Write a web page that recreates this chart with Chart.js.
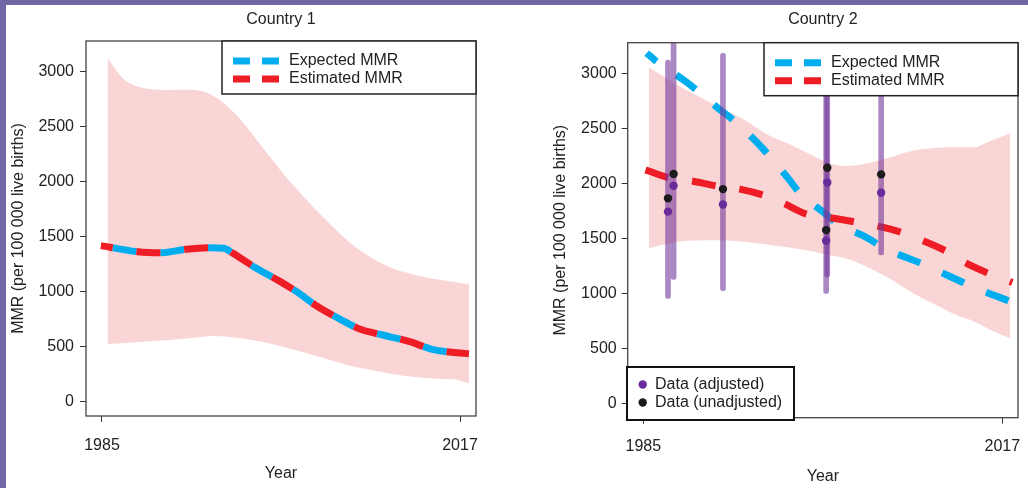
<!DOCTYPE html>
<html><head><meta charset="utf-8">
<script src="https://cdn.jsdelivr.net/npm/chart.js@4.4.1/dist/chart.umd.min.js"></script>
<style>
html,body{margin:0;padding:0;}
body{width:1028px;height:488px;background:#7267a6;position:relative;overflow:hidden;}
#panel{position:absolute;left:6px;top:5px;right:0;bottom:0;background:#fff;}
canvas{position:absolute;top:0;}
#c1{left:0}
#c2{left:520px}
</style></head><body>
<div id="panel"></div>
<canvas id="c1" width="520" height="488"></canvas>
<canvas id="c2" width="508" height="488"></canvas>
<script>
// ---- shared axis ticks ----
const xTicks = [1985, 2017];
const xTickLabels = ['1985', '2017'];
const yTicks = [0, 500, 1000, 1500, 2000, 2500, 3000];
const yTickLabels = ['0', '500', '1000', '1500', '2000', '2500', '3000'];
const panelTitles = ['Country 1', 'Country 2'];
const xTitle = 'Year';
const yTitle = 'MMR (per 100 000 live births)';
const lineLegendLabels = ['Expected MMR', 'Estimated MMR'];
const dataLegendLabels = ['Data (adjusted)', 'Data (unadjusted)'];

// ---- Country 1 ----
const c1LineYears = [1984.9, 1988.2, 1990.3, 1992.5, 1994.7, 1995.9, 1996.7, 1998.8, 2000.9, 2002.4, 2004.3, 2006.3, 2008.1, 2010.1, 2012.5, 2014.5, 2016.7, 2017.8];
const c1Expected  = [1420, 1365, 1356, 1387, 1401, 1396, 1350, 1214, 1095, 1001, 864, 750, 659, 607, 546, 477, 446, 437];
const c1Estimated = [1420, 1365, 1356, 1387, 1401, 1396, 1350, 1214, 1095, 1001, 864, 750, 659, 607, 546, 477, 446, 437];
const c1BandYears = [1985.5, 1987, 1989, 1991, 1993, 1995, 1997, 1999, 2001, 2003, 2005, 2007, 2009, 2011, 2013, 2015, 2016.5, 2017.8];
const c1Upper = [3125, 2930, 2850, 2836, 2838, 2780, 2610, 2360, 2100, 1868, 1656, 1462, 1314, 1212, 1154, 1111, 1090, 1068];
const c1Lower = [525, 535, 548, 561, 580, 598, 582, 550, 505, 450, 390, 332, 290, 250, 225, 210, 205, 167];

// ---- Country 2 ----
const c2ExpYears = [1985.3, 1986.2, 1988.9, 1991.5, 1993.2, 1995.6, 1997.8, 1999.1, 2001.0, 2002.5, 2004.8, 2006.5, 2009.7, 2014.7, 2017.8];
const c2Expected = [3188, 3109, 2920, 2700, 2563, 2324, 2062, 1896, 1744, 1623, 1516, 1411, 1277, 1047, 925];
const c2EstYears = [1985.2, 1987.2, 1989.3, 1991.5, 1993.6, 1995.7, 1997.5, 1999.6, 2001.6, 2003.7, 2005.8, 2007.9, 2009.8, 2011.9, 2013.5, 2015.6, 2017.9];
const c2Estimated = [2125, 2055, 2025, 1980, 1950, 1895, 1820, 1720, 1690, 1655, 1615, 1560, 1485, 1390, 1290, 1190, 1100];
const c2BandYears = [1985.5, 1988, 1990, 1992, 1994, 1996, 1998, 2000, 2001.5, 2003, 2005, 2007, 2009, 2011, 2013, 2014.4, 2016, 2017.7];
const c2Upper = [3058, 2900, 2790, 2680, 2580, 2450, 2360, 2260, 2190, 2160, 2185, 2240, 2300, 2325, 2330, 2330, 2390, 2457];
const c2Lower = [1411, 1471, 1483, 1484, 1470, 1445, 1418, 1385, 1350, 1320, 1240, 1135, 1005, 900, 800, 750, 665, 592];
const c2DataYears = [1987.2, 1987.7, 1992.1, 2001.4, 2001.3, 2006.2];
const c2Adjusted = [1745, 1980, 1810, 2010, 1480, 1917];
const c2Unadjusted = [1866, 2087, 1950, 2144, 1577, 2084];
const c2IntervalLow = [956, 1129, 1025, 1152, 1001, 1350];
const c2IntervalHigh = [3124, 3290, 3186, 2950, 3000, 2900];

// ---- styles ----
const BLUE = '#00aeef', RED = '#ee1c25', BAND = '#fad5d5';
const PURPLE = '#6b2c9b', BLACK = '#1c1c1c', BAR = 'rgba(115,55,155,0.6)';
const TXT = '#222';
const FONT = '"Liberation Sans", Arial, Helvetica, sans-serif';
Chart.defaults.font.family = FONT;
Chart.defaults.font.size = 16;

const zip = (xs, ys) => xs.map((x, i) => ({x: x, y: ys[i]}));

const frameBox = {
  id: 'frameBox',
  afterDatasetsDraw(chart) {
    const {ctx, chartArea: a} = chart;
    ctx.save();
    ctx.strokeStyle = '#444'; ctx.lineWidth = 1.3;
    ctx.strokeRect(a.left, a.top, a.right - a.left, a.bottom - a.top);
    ctx.restore();
  }
};

function makeLineLegend(labels, colors) {
  return { id: 'lineLegend', afterDraw(chart) {
    const {ctx, chartArea: a} = chart;
    const w = 254, h = 53, x0 = a.right - w, y0 = a.top;
    ctx.save();
    ctx.fillStyle = '#fff'; ctx.fillRect(x0, y0, w, h);
    ctx.strokeStyle = '#222'; ctx.lineWidth = 1.5; ctx.strokeRect(x0, y0, w, h);
    labels.forEach((lab, i) => {
      const y = y0 + 20 + i * 18;
      ctx.strokeStyle = colors[i]; ctx.lineWidth = 7; ctx.lineCap = 'butt';
      ctx.beginPath();
      ctx.moveTo(x0 + 11, y); ctx.lineTo(x0 + 28, y);
      ctx.moveTo(x0 + 40, y); ctx.lineTo(x0 + 57, y);
      ctx.stroke();
      ctx.fillStyle = TXT; ctx.font = '16px ' + FONT;
      ctx.textBaseline = 'middle'; ctx.textAlign = 'left';
      ctx.fillText(lab, x0 + 67, y);
    });
    ctx.restore();
  }};
}

function makeDotLegend(labels, colors) {
  return { id: 'dotLegend', afterDraw(chart) {
    const {ctx, chartArea: a} = chart;
    const w = 167, h = 53, x0 = a.left - 0.7, y0 = a.bottom - 50.7;
    ctx.save();
    ctx.fillStyle = '#fff'; ctx.fillRect(x0, y0, w, h);
    ctx.strokeStyle = '#111'; ctx.lineWidth = 2; ctx.strokeRect(x0, y0, w, h);
    labels.forEach((lab, i) => {
      const y = y0 + 17.5 + i * 18;
      ctx.fillStyle = colors[i];
      ctx.beginPath(); ctx.arc(x0 + 15.7, y, 4.2, 0, Math.PI * 2); ctx.fill();
      ctx.fillStyle = TXT; ctx.font = '16px ' + FONT;
      ctx.textBaseline = 'middle'; ctx.textAlign = 'left';
      ctx.fillText(lab, x0 + 28, y);
    });
    ctx.restore();
  }};
}

function makeScales(o) {
  return {
    x: {
      type: 'linear', min: o.xmin, max: o.xmax, offset: false,
      afterBuildTicks: s => { s.ticks = xTicks.map(v => ({value: v})); },
      afterFit: s => { s.height = o.xh; s.paddingLeft = 0; s.paddingRight = 0; },
      grid: { offset: false, drawOnChartArea: false, drawTicks: true, tickLength: 6, tickColor: '#333', lineWidth: 1 },
      border: { display: false },
      ticks: { autoSkip: false, maxRotation: 0, padding: o.xpad, color: TXT, font: {size: 16},
        callback: v => { const i = xTicks.indexOf(v); return i >= 0 ? xTickLabels[i] : String(v); } },
      title: { display: true, text: xTitle, color: TXT, font: {size: 16}, padding: {top: 0, bottom: o.xtpad} }
    },
    y: {
      type: 'linear', min: -130, max: 3282,
      afterBuildTicks: s => { s.ticks = yTicks.map(v => ({value: v})); },
      afterFit: s => { s.width = o.yw; s.paddingTop = 0; s.paddingBottom = 0; },
      grid: { drawOnChartArea: false, drawTicks: true, tickLength: 6, tickColor: '#333', lineWidth: 1 },
      border: { display: false },
      ticks: { padding: o.ypad, color: TXT, font: {size: 16},
        callback: v => { const i = yTicks.indexOf(v); return i >= 0 ? yTickLabels[i] : String(v); } },
      title: { display: true, text: yTitle, color: TXT, font: {size: 16}, padding: {top: o.ytpad, bottom: 0} }
    }
  };
}

function baseOptions(title, pad, titlePad, scales) {
  return {
    responsive: false, animation: false, events: [],
    layout: { padding: pad },
    plugins: {
      legend: { display: false }, tooltip: { enabled: false },
      title: { display: true, text: title, fullSize: false, color: TXT,
        font: {size: 16, weight: 'normal'}, padding: titlePad }
    },
    scales: scales
  };
}

const bandLower = (xs, ys) => ({ label: 'band lower', data: zip(xs, ys), borderWidth: 0, borderColor: 'rgba(0,0,0,0)',
  pointRadius: 0, fill: false, order: 20, cubicInterpolationMode: 'monotone' });
const bandUpper = (xs, ys) => ({ label: 'band upper', data: zip(xs, ys), borderWidth: 0, borderColor: 'rgba(0,0,0,0)',
  pointRadius: 0, fill: '-1', backgroundColor: BAND, order: 19, cubicInterpolationMode: 'monotone' });
const dashLine = (label, xs, ys, color, off, order) => ({ label: label, data: zip(xs, ys), borderColor: color,
  borderWidth: 7, borderDash: [24, 24], borderDashOffset: off, borderCapStyle: 'butt', borderJoinStyle: 'round',
  pointRadius: 0, fill: false, order: order, cubicInterpolationMode: 'monotone' });

new Chart(document.getElementById('c1'), {
  type: 'line',
  data: { datasets: [
    bandLower(c1BandYears, c1Lower),
    bandUpper(c1BandYears, c1Upper),
    dashLine(lineLegendLabels[0], c1LineYears, c1Expected, BLUE, 36, 8),
    dashLine(lineLegendLabels[1], c1LineYears, c1Estimated, RED, 12, 7)
  ]},
  options: baseOptions(panelTitles[0], {left: 6, right: 44, top: 0, bottom: 0}, {top: 10, bottom: 11.8},
    makeScales({xmin: 1983.57, xmax: 2018.43, xh: 72, xpad: 14.4, xtpad: 4.4, yw: 80, ypad: 6, ytpad: 3})),
  plugins: [frameBox, makeLineLegend(lineLegendLabels, [BLUE, RED])]
});

new Chart(document.getElementById('c2'), {
  type: 'line',
  data: { datasets: [
    bandLower(c2BandYears, c2Lower),
    bandUpper(c2BandYears, c2Upper),
    dashLine(lineLegendLabels[0], c2ExpYears, c2Expected, BLUE, 11, 8),
    dashLine(lineLegendLabels[1], c2EstYears, c2Estimated, RED, 0, 7),
    { type: 'bar', label: 'Interval', data: c2DataYears.map((x, i) => ({x: x, y: [c2IntervalLow[i], c2IntervalHigh[i]]})),
      backgroundColor: BAR, borderWidth: 0, barThickness: 5, borderRadius: 2.5, borderSkipped: false, order: 4 },
    { label: dataLegendLabels[1], data: zip(c2DataYears, c2Unadjusted), showLine: false, pointRadius: 4.2,
      pointBackgroundColor: BLACK, pointBorderColor: BLACK, pointBorderWidth: 0, borderColor: 'rgba(0,0,0,0)', order: 2 },
    { label: dataLegendLabels[0], data: zip(c2DataYears, c2Adjusted), showLine: false, pointRadius: 4.2,
      pointBackgroundColor: PURPLE, pointBorderColor: PURPLE, pointBorderWidth: 0, borderColor: 'rgba(0,0,0,0)', order: 1 }
  ]},
  options: baseOptions(panelTitles[1], {left: 28, right: 10, top: 0, bottom: 0}, {top: 10, bottom: 13.5},
    makeScales({xmin: 1983.61, xmax: 2018.4, xh: 70.3, xpad: 13.2, xtpad: 1.4, yw: 79.7, ypad: 5, ytpad: 3.4})),
  plugins: [frameBox, makeLineLegend(lineLegendLabels, [BLUE, RED]), makeDotLegend(dataLegendLabels, [PURPLE, BLACK])]
});
</script>
</body></html>
